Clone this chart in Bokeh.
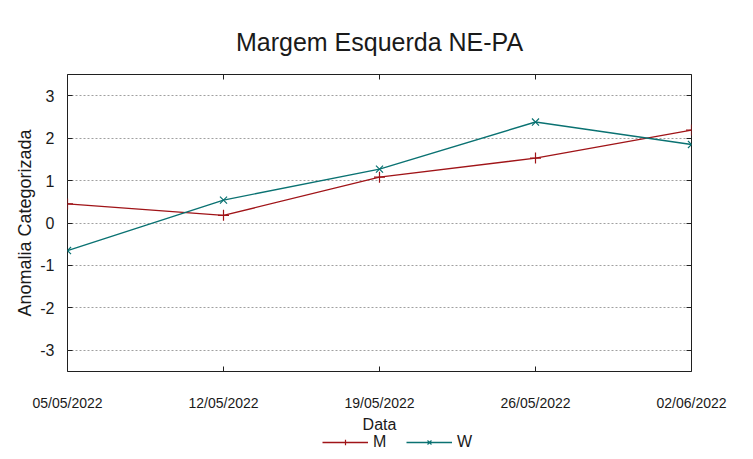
import datetime as dt
from bokeh.plotting import figure
from bokeh.layouts import column
from bokeh.models import (Range1d, FixedTicker, LinearAxis, Legend, LegendItem, Grid)
from bokeh.embed import file_html
from bokeh.resources import INLINE

# ---- data ----
dates = ["05/05/2022", "12/05/2022", "19/05/2022", "26/05/2022", "02/06/2022"]
m_values = [0.45, 0.18, 1.08, 1.53, 2.19]
w_values = [-0.65, 0.54, 1.27, 2.38, 1.85]
y_ticks = [-3, -2, -1, 0, 1, 2, 3]

title_text = "Margem Esquerda NE-PA"
x_label = "Data"
y_label = "Anomalia Categorizada"

# ---- derived ----
d_objs = [dt.datetime.strptime(d, "%d/%m/%Y") for d in dates]
x_days = [(d - d_objs[0]).days for d in d_objs]

FONT = "Liberation Sans"
TXT = "#1a1a1a"
RED = "#a01418"
TEAL = "#0a7272"

p = figure(width=753, height=413, output_backend="svg", toolbar_location=None,
           x_axis_type=None, y_axis_type=None,
           x_range=Range1d(x_days[0], x_days[-1]), y_range=Range1d(-3.5, 3.5),
           min_border_left=67, min_border_right=62, min_border_top=74, min_border_bottom=42)
p.outline_line_color = "#202020"
p.outline_line_width = 1
p.background_fill_color = "white"
p.border_fill_color = "white"

p.title.text = title_text
p.title.align = "center"
p.title.text_font = FONT
p.title.text_font_size = "25px"
p.title.text_font_style = "normal"
p.title.text_color = TXT
p.title.standoff = 38

xt = FixedTicker(ticks=x_days)
yt = FixedTicker(ticks=y_ticks)

def style_axis(ax, show_labels):
    ax.axis_line_color = None
    ax.major_tick_in = 5
    ax.major_tick_out = 0
    ax.major_tick_line_color = "#202020"
    ax.minor_tick_line_color = None
    if not show_labels:
        ax.major_label_text_font_size = "0px"
        ax.major_label_text_color = None

xb = LinearAxis(ticker=xt, major_label_overrides={k: v for k, v in zip(x_days, dates)})
style_axis(xb, True)
xb.major_label_text_font = FONT
xb.major_label_text_font_size = "14px"
xb.major_label_text_color = TXT
xb.major_label_standoff = 23
p.add_layout(xb, "below")

xtop = LinearAxis(ticker=xt)
style_axis(xtop, False)
p.add_layout(xtop, "above")

yl = LinearAxis(ticker=yt, major_label_overrides={v: str(v) for v in y_ticks})
style_axis(yl, True)
yl.major_label_text_font = FONT
yl.major_label_text_font_size = "16px"
yl.major_label_text_color = TXT
yl.major_label_standoff = 13
yl.axis_label = y_label
yl.axis_label_text_font = FONT
yl.axis_label_text_font_size = "18px"
yl.axis_label_text_font_style = "normal"
yl.axis_label_text_color = TXT
yl.axis_label_standoff = 2
p.add_layout(yl, "left")

yr = LinearAxis(ticker=yt)
style_axis(yr, False)
p.add_layout(yr, "right")

grid = Grid(dimension=1, ticker=yt, grid_line_color="#a0a0a0", grid_line_dash="2 2",
            grid_line_width=1)
p.add_layout(grid)

p.line(x_days, m_values, line_color=RED, line_width=1.4)
p.scatter(x_days, m_values, marker="cross", size=11, line_color=RED, line_width=1.2)
p.line(x_days, w_values, line_color=TEAL, line_width=1.4)
p.scatter(x_days, w_values, marker="x", size=10, line_color=TEAL, line_width=1.2)

# ---- strip under the chart: x-axis title and legend ----
lf = figure(width=753, height=46, output_backend="svg", toolbar_location=None,
            x_axis_type=None, y_axis_type=None,
            x_range=Range1d(x_days[0], x_days[-1]), y_range=Range1d(-3.5, 3.5),
            min_border_left=67, min_border_right=62, min_border_top=0, min_border_bottom=0)
lf.outline_line_color = None
lf.grid.visible = False
lf.background_fill_color = "white"
lf.border_fill_color = "white"
lf.title.text = x_label
lf.title.align = "center"
lf.title.text_font = FONT
lf.title.text_font_size = "16px"
lf.title.text_font_style = "normal"
lf.title.text_color = TXT
lf.title.standoff = 0

lm = lf.line(x_days, m_values, line_color=RED, line_width=1.4, visible=False)
sm = lf.scatter(x_days, m_values, marker="cross", size=11, line_color=RED, line_width=1.2, visible=False)
lw = lf.line(x_days, w_values, line_color=TEAL, line_width=1.4, visible=False)
sw = lf.scatter(x_days, w_values, marker="x", size=10, line_color=TEAL, line_width=1.2, visible=False)

legend = Legend(items=[LegendItem(label="M", renderers=[lm, sm]),
                       LegendItem(label="W", renderers=[lw, sw])],
                orientation="horizontal", location=(255, 8),
                border_line_color=None, background_fill_alpha=0,
                inactive_fill_alpha=0,
                label_text_font=FONT, label_text_font_size="16px", label_text_color=TXT,
                label_height=16, glyph_width=46, glyph_height=14, padding=0, margin=0,
                spacing=13, label_standoff=5)
lf.add_layout(legend, "center")

layout = column(p, lf, spacing=0)
open("out.html", "w").write(file_html(layout, INLINE))
